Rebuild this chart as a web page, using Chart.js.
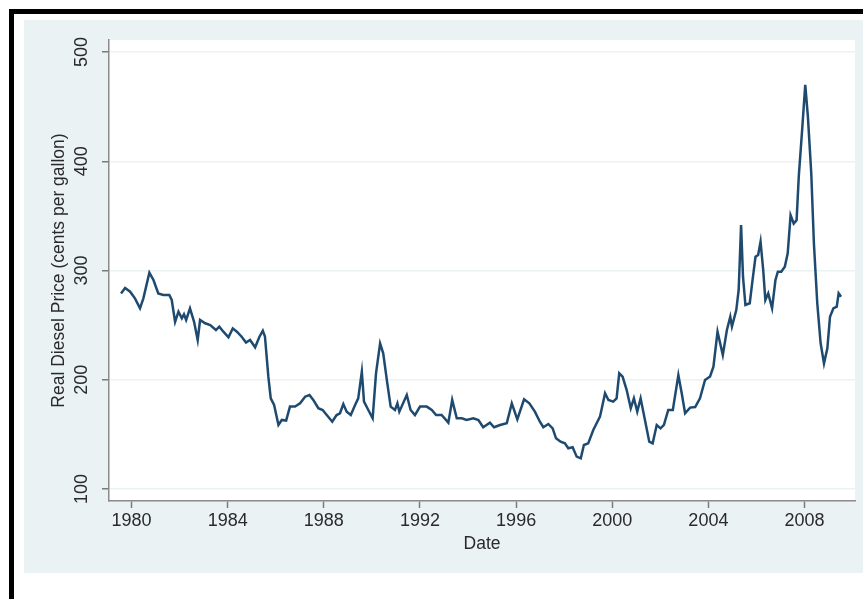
<!DOCTYPE html>
<html>
<head>
<meta charset="utf-8">
<script src="https://cdn.jsdelivr.net/npm/chart.js@4/dist/chart.umd.min.js"></script>
<style>
  html, body { margin: 0; padding: 0; background: #ffffff; width: 863px; height: 599px; overflow: hidden; }
  #barTop { position: absolute; left: 9px; top: 9px; width: 854px; height: 5px; background: #000; }
  #barLeft { position: absolute; left: 9px; top: 9px; width: 5px; height: 590px; background: #000; }
  #panel { position: absolute; left: 24px; top: 20px; width: 839px; height: 553px; background: #eaf2f3; }
  canvas { display: block; }
</style>
</head>
<body>
<div id="barTop"></div>
<div id="barLeft"></div>
<div id="panel"><canvas id="c" width="839" height="553"></canvas></div>
<script>
// ---- data ----
const dates = [
  1979.56, 1979.73, 1979.94, 1980.14, 1980.35, 1980.49, 1980.74, 1980.91, 1981.11, 1981.32,
  1981.57, 1981.67, 1981.81, 1981.95, 1982.09, 1982.18, 1982.27, 1982.43, 1982.60, 1982.75,
  1982.85, 1983.06, 1983.27, 1983.51, 1983.65, 1983.82, 1984.03, 1984.21, 1984.38, 1984.58,
  1984.76, 1984.93, 1985.14, 1985.32, 1985.46, 1985.55, 1985.69, 1985.79, 1985.93, 1986.11,
  1986.25, 1986.43, 1986.59, 1986.80, 1987.01, 1987.22, 1987.40, 1987.56, 1987.77, 1987.95,
  1988.12, 1988.35, 1988.53, 1988.67, 1988.81, 1988.95, 1989.12, 1989.30, 1989.43, 1989.58,
  1989.67, 1989.85, 1990.03, 1990.17, 1990.34, 1990.47, 1990.64, 1990.78, 1990.96, 1991.06,
  1991.14, 1991.45, 1991.61, 1991.79, 1992.00, 1992.28, 1992.49, 1992.67, 1992.90, 1993.18,
  1993.34, 1993.53, 1993.74, 1993.94, 1994.22, 1994.43, 1994.63, 1994.91, 1995.08, 1995.33,
  1995.61, 1995.82, 1996.05, 1996.33, 1996.55, 1996.78, 1996.99, 1997.13, 1997.34, 1997.52,
  1997.66, 1997.85, 1998.03, 1998.17, 1998.35, 1998.52, 1998.69, 1998.82, 1999.00, 1999.21,
  1999.49, 1999.70, 1999.84, 2000.04, 2000.18, 2000.29, 2000.43, 2000.60, 2000.77, 2000.90,
  2001.04, 2001.18, 2001.36, 2001.54, 2001.68, 2001.85, 2002.01, 2002.15, 2002.33, 2002.52,
  2002.75, 2002.89, 2003.03, 2003.24, 2003.45, 2003.65, 2003.86, 2004.07, 2004.21, 2004.38,
  2004.60, 2004.77, 2004.91, 2004.98, 2005.16, 2005.26, 2005.36, 2005.44, 2005.54, 2005.72,
  2005.82, 2005.96, 2006.07, 2006.17, 2006.28, 2006.37, 2006.49, 2006.65, 2006.79, 2006.89,
  2007.03, 2007.18, 2007.30, 2007.42, 2007.55, 2007.67, 2007.76, 2007.90, 2008.03, 2008.14,
  2008.28, 2008.39, 2008.53, 2008.67, 2008.81, 2008.95, 2009.06, 2009.20, 2009.34, 2009.42,
  2009.52
];
const prices = [
  279, 284, 280.6, 274.5, 265.4, 274.5, 298, 291.3, 279, 277.6,
  277.6, 273, 253, 262.3, 256.2, 260, 254.7, 265.4, 253, 236.4,
  254.7, 251.7, 250, 245.5, 248.6, 244, 238.8, 247, 244, 239.4,
  234, 236.4, 229.7, 239.4, 244.9, 239.4, 202.8, 183, 176.9, 158.6,
  163.2, 162.6, 175.4, 175.4, 178.4, 184.5, 186, 181.5, 173.9, 172.3,
  167.7, 161.6, 167.7, 169.3, 177.8, 170.8, 167.7, 176.9, 183, 207.4,
  180, 172.3, 164.7, 205.9, 233.3, 224.2, 196.7, 175.4, 172.3, 178.4,
  170.8, 186, 172.3, 167.7, 175.4, 175.4, 172.3, 167.7, 167.7, 160.7,
  181.5, 164.7, 164.7, 163.2, 164.7, 163.2, 156.5, 160.7, 156.5, 158.6,
  160.1, 178.4, 163.8, 182.1, 178.4, 170.8, 161.6, 156.5, 159.5, 155.5,
  146.4, 143.3, 141.8, 137.3, 138.2, 129.6, 128.1, 140.3, 141.8, 154,
  166.2, 187.6, 181.5, 180, 183, 205.9, 202.8, 190.6, 173.9, 183,
  170.8, 183, 163.2, 143.3, 141.8, 158.6, 155.5, 158.6, 172.3, 172.3,
  204.3, 187.6, 169.3, 174.5, 175, 183, 199.8, 203, 212, 244,
  222.7, 245.5, 257.7, 248.6, 263.8, 282.2, 341.6, 294.3, 268.4, 270,
  288.3, 312.6, 314.2, 326.4, 300.5, 273, 279.1, 265.4, 291.3, 298.9,
  298.9, 303.5, 315.7, 350.6, 343, 346.1, 385.9, 428.6, 470, 440.8,
  389, 324.9, 270, 233.4, 215, 228.8, 257.7, 265.4, 266.9, 279.1,
  276
];
const xTickValues = [1980, 1984, 1988, 1992, 1996, 2000, 2004, 2008];
const yTickValues = [100, 200, 300, 400, 500];
const xTitle = 'Date';
const yTitle = 'Real Diesel Price (cents per gallon)';

const points = dates.map((d, i) => ({ x: d, y: prices[i] }));

const plotBg = {
  id: 'plotBg',
  beforeDraw(chart) {
    const a = chart.chartArea, ctx = chart.ctx;
    ctx.save();
    ctx.fillStyle = '#ffffff';
    ctx.fillRect(a.left, a.top, a.right - a.left, a.bottom - a.top);
    ctx.restore();
  }
};

const FONT = "'Liberation Sans', Arial, Helvetica, sans-serif";

new Chart(document.getElementById('c'), {
  type: 'line',
  data: {
    datasets: [{
      data: points,
      borderColor: '#1f4a70',
      borderWidth: 2.5,
      pointRadius: 0,
      tension: 0,
      fill: false
    }]
  },
  options: {
    responsive: false,
    animation: false,
    devicePixelRatio: 1,
    layout: { padding: { top: 20, right: 8, left: 0, bottom: 0 } },
    plugins: { legend: { display: false }, tooltip: { enabled: false } },
    scales: {
      x: {
        type: 'linear',
        min: 1979.06,
        max: 2010.1,
        afterBuildTicks: s => { s.ticks = xTickValues.map(v => ({ value: v })); },
        afterFit: s => { s.height = 72; },
        grid: { drawOnChartArea: false, drawTicks: true, tickLength: 7, tickColor: '#7a7a7a', tickWidth: 1.5 },
        border: { display: true, color: '#8a8a8a', width: 1.5 },
        ticks: {
          autoSkip: false, maxRotation: 0, minRotation: 0, padding: 2,
          color: '#2a2a2a', font: { family: FONT, size: 18 },
          callback: v => String(v)
        },
        title: { display: true, text: xTitle, color: '#2a2a2a', font: { family: FONT, size: 17.5 }, padding: { top: 0, bottom: 18 } }
      },
      y: {
        type: 'linear',
        min: 89,
        max: 511,
        afterBuildTicks: s => { s.ticks = yTickValues.map(v => ({ value: v })); },
        afterFit: s => { s.width = 85; },
        grid: { color: '#eaf2f3', lineWidth: 1.5, drawTicks: true, tickLength: 7, tickColor: '#7a7a7a', tickWidth: 1.5 },
        border: { display: true, color: '#8a8a8a', width: 1.5 },
        ticks: {
          autoSkip: false, minRotation: 90, maxRotation: 90, crossAlign: 'center', padding: 5,
          color: '#2a2a2a', font: { family: FONT, size: 18 },
          callback: v => String(v)
        },
        title: { display: true, text: yTitle, color: '#2a2a2a', font: { family: FONT, size: 17.5 }, padding: { top: 25, bottom: 0 } }
      }
    }
  },
  plugins: [plotBg]
});
</script>
</body>
</html>
